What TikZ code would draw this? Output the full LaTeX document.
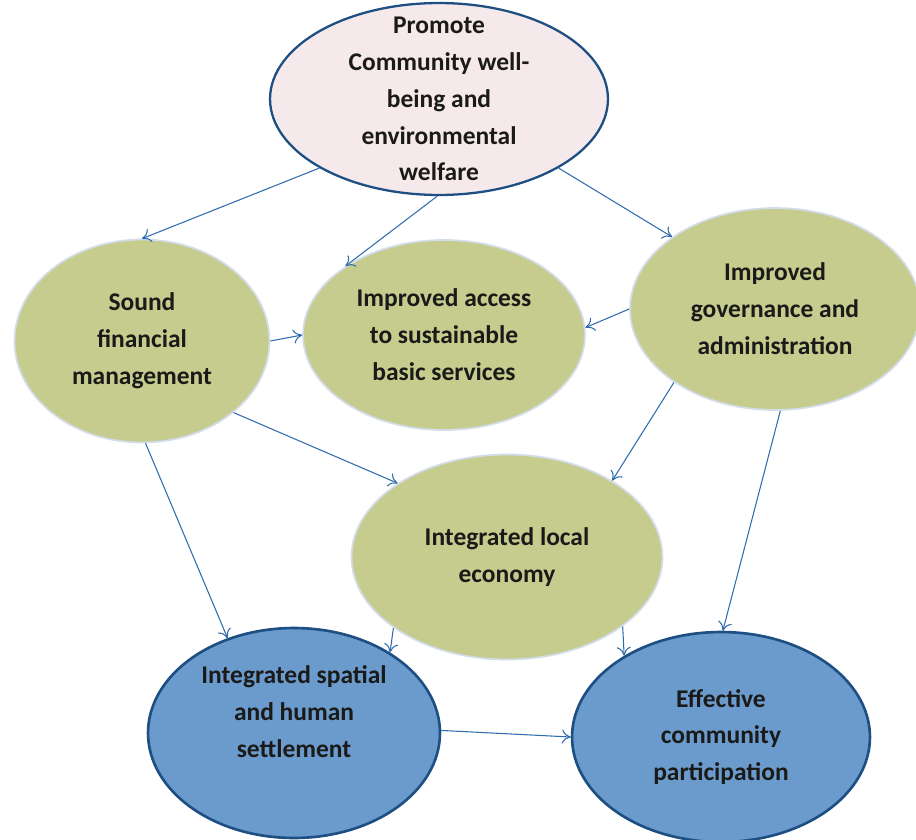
\documentclass[tikz,border=0pt]{standalone}
\usepackage{fontspec}
\setmainfont{Carlito}
\usetikzlibrary{shapes.geometric,arrows.meta}

\definecolor{pinkfill}{HTML}{F5E9EB}
\definecolor{darkrim}{HTML}{1E4F82}
\definecolor{olive}{HTML}{C5CC8E}
\definecolor{paleedge}{HTML}{D3DDEA}
\definecolor{bluefill}{HTML}{6B9BCD}
\definecolor{linkblue}{HTML}{2F6CAE}
\definecolor{ink}{HTML}{1A1A18}

\begin{document}
\begin{tikzpicture}[x=0.02cm,y=-0.02cm,
    blob/.style={ellipse, inner sep=0pt},
    txt/.style={align=center, text=ink, font=\bfseries\fontsize{14.5}{21}\selectfont},
    link/.style={draw=linkblue, line width=0.6pt, -{To[length=5pt,width=8pt]}}]
    \useasboundingbox (0,0) rectangle (916,839);

    \node[blob, fill=pinkfill, draw=darkrim, line width=1.3pt,
          minimum width=6.76cm, minimum height=3.84cm] (top) at (439,99) {};
    \node[txt] (toptext) at (top) {Promote\\Community well-\\being and\\environmental\\welfare};

    \node[blob, fill=olive, draw=paleedge, line width=1pt,
          minimum width=5.1cm, minimum height=4.06cm] (sound) at (142,341) {};
    \node[txt] (soundtext) at (sound) {Sound\\financial\\management};

    \node[blob, fill=olive, draw=paleedge, line width=1pt,
          minimum width=5.64cm, minimum height=3.8cm] (access) at (444,335) {};
    \node[txt] (accesstext) at (access) {Improved access\\to sustainable\\basic services};

    \node[blob, fill=olive, draw=paleedge, line width=1pt,
          minimum width=5.8cm, minimum height=4.04cm] (gov) at (775,309) {};
    \node[txt] (govtext) at (gov) {Improved\\governance and\\administration};

    \node[blob, fill=olive, draw=paleedge, line width=1pt,
          minimum width=6.22cm, minimum height=4.1cm] (local) at (507,557) {};
    \node[txt] (localtext) at (local) {Integrated local\\economy};

    \node[blob, fill=bluefill, draw=darkrim, line width=1.5pt,
          minimum width=5.84cm, minimum height=4.2cm] (spatial) at (294,733) {};
    \node[txt] (spatialtext) at ([yshift=0.42cm]spatial) {Integrated spatial\\and human\\settlement};

    \node[blob, fill=bluefill, draw=darkrim, line width=1.5pt,
          minimum width=5.96cm, minimum height=4.2cm] (effective) at (721,737) {};
    \node[txt] (effectivetext) at (effective) {Effective\\community\\participation};

    \draw[link] (top.-150) -- (sound.90);
    \draw[link] (top.-91) -- (access.145);
    \draw[link] (top.-30) -- (gov.145);

    \draw[link] (sound.0) -- (access.180);
    \draw[link] (gov.180) -- (access.3);
    \draw[link] (sound.-38) -- (local.146);
    \draw[link] (sound.-88) -- (spatial.125);
    \draw[link] (gov.216) -- (local.36);
    \draw[link] (gov.-87) -- (effective.89);

    \draw[link] (local.212) -- (spatial.40);
    \draw[link] (local.-31) -- (effective.140);
    \draw[link] (spatial.1) -- (effective.180);

\end{tikzpicture}
\end{document}
